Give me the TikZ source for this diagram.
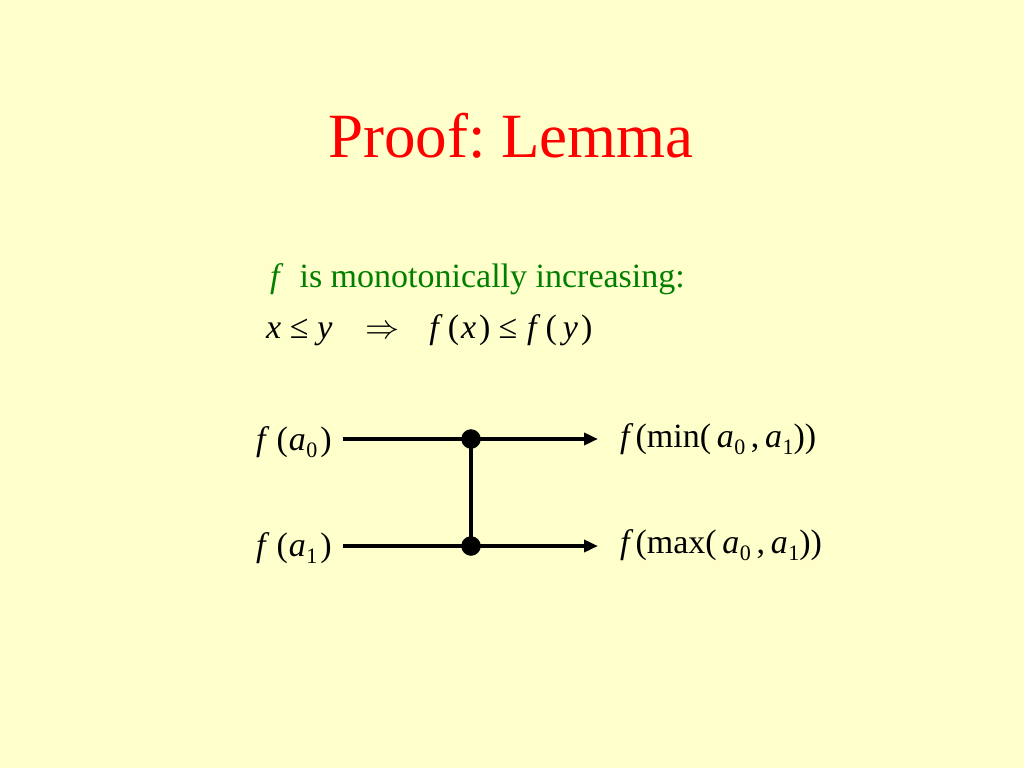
\RequirePackage{fix-cm}
\documentclass[tikz,border=0pt]{standalone}
\usepackage{fontspec}
\setmainfont{Liberation Serif}
\usepackage{tikz}
\usetikzlibrary{arrows.meta}
\definecolor{slidebg}{HTML}{FFFFCC}
\definecolor{slidegreen}{HTML}{007F00}
\tikzset{
    wire/.style={line width=4pt},
    ->-/.style={wire,-{Triangle[length=14pt,width=12pt]}}
}
\newcommand{\lsub}[1]{\kern0.5pt\raisebox{-0.22em}{\fontsize{22}{24}\selectfont #1}}
\newcommand{\vf}{\textit{f}\kern2pt}
\frenchspacing

\begin{document}
\begin{tikzpicture}[x=1pt,y=-1pt,font=\fontsize{34}{40}\selectfont]
\fill[slidebg] (0,0) rectangle (1024,768);
\useasboundingbox (0,0) rectangle (1024,768);
\node (title) at (511,157)[anchor=base, text=red, font=\fontsize{63}{70}\selectfont] {Proof: Lemma};
\node (mono) at (270,287)[anchor=base west, inner sep=0pt, text=slidegreen] {\textit{f}\hspace{16pt}is monotonically increasing:};
\node (rule) at (266,338)[anchor=base west, inner sep=0pt] {\textit{x}\hspace{8.7pt}≤\hspace{8.7pt}\textit{y}\hspace{33pt}$\Rightarrow$\hspace{30pt}\textit{f}\kern5pt(\kern2pt\textit{x}\kern3pt)\kern8pt≤\kern10pt\textit{f}\kern5pt(\kern6pt\textit{y}\kern3pt)};
% wires of the comparator
\foreach \y/\p/\base/\inlabel/\outlabel in {439/0/450/{\textit{f}\kern7pt(\kern1pt\textit{a}\lsub{0}\kern3pt)}/{\vf(min(\,\textit{a}\lsub{0}\,,\,\textit{a}\lsub{1}))}, 546/1/556/{\textit{f}\kern7pt(\kern1pt\textit{a}\lsub{1}\kern3pt)}/{\vf(max(\,\textit{a}\lsub{0}\,,\,\textit{a}\lsub{1}))}}{
    \coordinate (in\p) at (343,\y);
    \coordinate (c\p) at (471,\y);
    \coordinate (out\p) at (598,\y);
    \node (lin\p) at (256,\base)[anchor=base west, inner sep=0pt] {\inlabel};
    \node (lout\p) at (620,\base-3)[anchor=base west, inner sep=0pt] {\outlabel};
    \draw[wire] (in\p) -- (c\p);
    \draw[->-] (c\p) -- (out\p);
}
\draw[wire] (c0) -- (c1);
\foreach \p in {0,1}{
    \draw[fill] (c\p) circle (9.5);
}
\end{tikzpicture}
\end{document}
